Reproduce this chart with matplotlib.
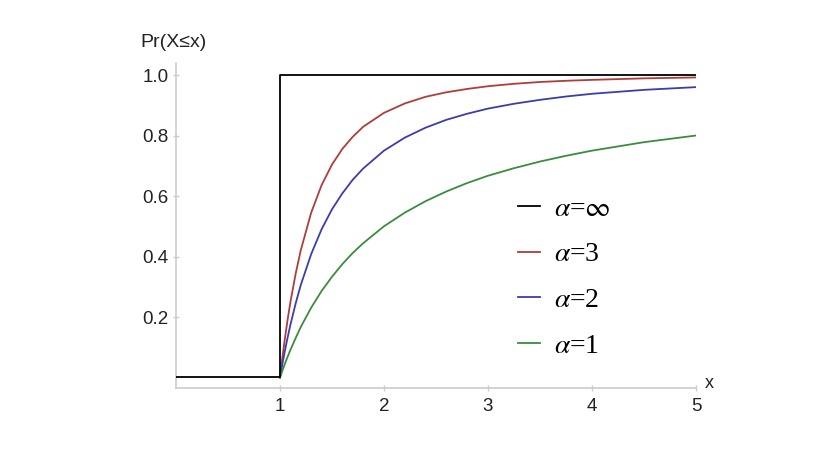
import numpy as np
import matplotlib.pyplot as plt

plt.rcParams['mathtext.fontset'] = 'stix'

# values (Pareto CDF, x_m = 1)
x_vals = [1.0, 1.025, 1.05, 1.075, 1.1, 1.15, 1.2, 1.3, 1.4, 1.5, 1.6, 1.7, 1.8, 2.0,
          2.2, 2.4, 2.6, 2.8, 3.0, 3.25, 3.5, 3.75, 4.0, 4.5, 5.0]
cdf_a3 = [0.0, 0.071, 0.136, 0.195, 0.249, 0.342, 0.421, 0.545, 0.636, 0.704, 0.756,
          0.796, 0.829, 0.875, 0.906, 0.928, 0.943, 0.954, 0.963, 0.971, 0.977, 0.981,
          0.984, 0.989, 0.992]
cdf_a2 = [0.0, 0.048, 0.093, 0.135, 0.174, 0.244, 0.306, 0.408, 0.490, 0.556, 0.609,
          0.654, 0.691, 0.750, 0.793, 0.826, 0.852, 0.872, 0.889, 0.905, 0.918, 0.929,
          0.938, 0.951, 0.960]
cdf_a1 = [0.0, 0.024, 0.048, 0.070, 0.091, 0.130, 0.167, 0.231, 0.286, 0.333, 0.375,
          0.412, 0.444, 0.500, 0.545, 0.583, 0.615, 0.643, 0.667, 0.692, 0.714, 0.733,
          0.750, 0.778, 0.800]
step_x = [0.0, 1.0, 1.0, 5.0]
step_y = [0.0, 0.0, 1.0, 1.0]

labels = [r'$\alpha$=$\infty$', r'$\alpha$=3', r'$\alpha$=2', r'$\alpha$=1']
colors = ['black', '#b03c3c', '#3c3cae', '#3a8c3e']

fig = plt.figure(figsize=(8.27, 4.59), dpi=100)
ax = fig.add_axes([0.2128, 0.1547, 0.6288, 0.708])

lw = 1.3
h1, = ax.plot(step_x, step_y, color=colors[0], lw=lw, zorder=5)
h2, = ax.plot(x_vals, cdf_a3, color=colors[1], lw=lw)
h3, = ax.plot(x_vals, cdf_a2, color=colors[2], lw=lw)
h4, = ax.plot(x_vals, cdf_a1, color=colors[3], lw=lw)

ax.set_xlim(0, 5)
ax.set_ylim(-0.0347, 1.0397)
for s in ['top', 'right']:
    ax.spines[s].set_visible(False)
for s in ['left', 'bottom']:
    ax.spines[s].set_color('#cccccc')
    ax.spines[s].set_linewidth(1.2)

ax.set_xticks([1, 2, 3, 4, 5])
ax.set_yticks([0.2, 0.4, 0.6, 0.8, 1.0])
ax.set_yticklabels(['0.2', '0.4', '0.6', '0.8', '1.0'])
ax.tick_params(axis='both', colors='#cccccc', labelcolor='#222222', labelsize=13.5,
               length=4, direction='inout', width=1)
ax.tick_params(axis='x', pad=5)
for t in ax.get_xticklabels() + ax.get_yticklabels():
    t.set_family('Liberation Sans')

lab = ax.text(-0.02, 1.08, 'Pr(X≤x)', ha='center', va='bottom', fontsize=14,
              family=['Liberation Sans', 'DejaVu Sans'], color='#222222')
lab.set_clip_on(False)
ax.text(5.08, -0.02, 'x', ha='left', va='center', fontsize=13,
        family='Liberation Sans', color='#222222', clip_on=False)

ax.legend([h1, h2, h3, h4], labels, loc='center left', bbox_to_anchor=(0.658, 0.340),
          frameon=False, prop={'family': 'Liberation Serif', 'size': 20},
          handlelength=0.8, labelspacing=0.73, handletextpad=0.5,
          borderaxespad=0, borderpad=0)

fig.savefig('out.png', dpi=100)
